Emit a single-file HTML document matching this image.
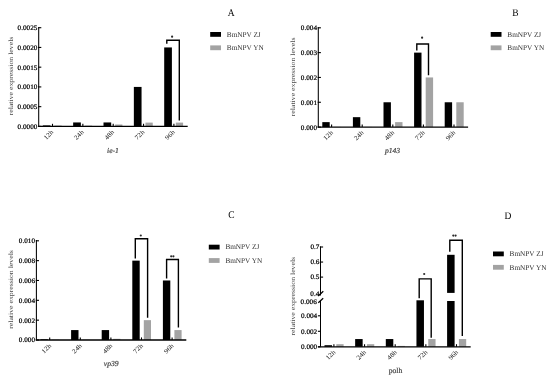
<!DOCTYPE html>
<html><head><meta charset="utf-8"><style>
html,body{margin:0;padding:0;background:#fff;}
svg{display:block;will-change:transform;}
text{font-family:"Liberation Serif", serif;text-rendering:geometricPrecision;}
</style></head><body>
<svg width="550" height="381" viewBox="0 0 550 381" shape-rendering="auto">
<rect width="550" height="381" fill="#fff"/>
<rect x="42.80" y="125.40" width="7.70" height="1.00" fill="#000"/>
<rect x="54.40" y="125.50" width="7.30" height="0.90" fill="#a3a3a3"/>
<line x1="52.50" y1="126.40" x2="52.50" y2="123.80" stroke="#000" stroke-width="1.1"/>
<rect x="73.15" y="122.45" width="7.70" height="3.95" fill="#000"/>
<rect x="84.75" y="125.60" width="7.30" height="0.80" fill="#a3a3a3"/>
<line x1="82.85" y1="126.40" x2="82.85" y2="123.80" stroke="#000" stroke-width="1.1"/>
<rect x="103.50" y="122.45" width="7.70" height="3.95" fill="#000"/>
<rect x="115.10" y="124.50" width="7.30" height="1.90" fill="#a3a3a3"/>
<line x1="113.20" y1="126.40" x2="113.20" y2="123.80" stroke="#000" stroke-width="1.1"/>
<rect x="133.85" y="86.92" width="7.70" height="39.48" fill="#000"/>
<rect x="145.45" y="122.60" width="7.30" height="3.80" fill="#a3a3a3"/>
<line x1="143.55" y1="126.40" x2="143.55" y2="123.80" stroke="#000" stroke-width="1.1"/>
<rect x="164.20" y="47.44" width="7.70" height="78.96" fill="#000"/>
<rect x="175.80" y="122.60" width="7.30" height="3.80" fill="#a3a3a3"/>
<line x1="173.90" y1="126.40" x2="173.90" y2="123.80" stroke="#000" stroke-width="1.1"/>
<line x1="38.70" y1="27.15" x2="38.70" y2="126.40" stroke="#000" stroke-width="1.05"/>
<line x1="38.05" y1="126.40" x2="187.70" y2="126.40" stroke="#000" stroke-width="1.3"/>
<line x1="38.10" y1="126.40" x2="41.30" y2="126.40" stroke="#000" stroke-width="1.1"/>
<text transform="translate(37.40 128.85) scale(1.06 1)" font-size="6.8" text-anchor="end" fill="#000" stroke="#000" stroke-width="0.22">0.0000</text>
<line x1="38.10" y1="106.66" x2="41.30" y2="106.66" stroke="#000" stroke-width="1.1"/>
<text transform="translate(37.40 109.11) scale(1.06 1)" font-size="6.8" text-anchor="end" fill="#000" stroke="#000" stroke-width="0.22">0.0005</text>
<line x1="38.10" y1="86.92" x2="41.30" y2="86.92" stroke="#000" stroke-width="1.1"/>
<text transform="translate(37.40 89.37) scale(1.06 1)" font-size="6.8" text-anchor="end" fill="#000" stroke="#000" stroke-width="0.22">0.0010</text>
<line x1="38.10" y1="67.18" x2="41.30" y2="67.18" stroke="#000" stroke-width="1.1"/>
<text transform="translate(37.40 69.63) scale(1.06 1)" font-size="6.8" text-anchor="end" fill="#000" stroke="#000" stroke-width="0.22">0.0015</text>
<line x1="38.10" y1="47.44" x2="41.30" y2="47.44" stroke="#000" stroke-width="1.1"/>
<text transform="translate(37.40 49.89) scale(1.06 1)" font-size="6.8" text-anchor="end" fill="#000" stroke="#000" stroke-width="0.22">0.0020</text>
<line x1="38.10" y1="27.70" x2="41.30" y2="27.70" stroke="#000" stroke-width="1.1"/>
<text transform="translate(37.40 30.15) scale(1.06 1)" font-size="6.8" text-anchor="end" fill="#000" stroke="#000" stroke-width="0.22">0.0025</text>
<path d="M166.80 43.80V40.20H179.30V120.40" fill="none" stroke="#000" stroke-width="1.4"/>
<circle cx="172.10" cy="36.70" r="1.1" fill="#2a2a2a"/>
<text transform="translate(53.90 132.50) rotate(-45) scale(1.1 1)" font-size="6.6" text-anchor="end" fill="#222" >12h</text>
<text transform="translate(84.25 132.50) rotate(-45) scale(1.1 1)" font-size="6.6" text-anchor="end" fill="#222" >24h</text>
<text transform="translate(114.60 132.50) rotate(-45) scale(1.1 1)" font-size="6.6" text-anchor="end" fill="#222" >48h</text>
<text transform="translate(144.95 132.50) rotate(-45) scale(1.1 1)" font-size="6.6" text-anchor="end" fill="#222" >72h</text>
<text transform="translate(175.30 132.50) rotate(-45) scale(1.1 1)" font-size="6.6" text-anchor="end" fill="#222" >96h</text>
<text transform="translate(12.90 76.00) rotate(-90) scale(1.18 1)" font-size="6.6" text-anchor="middle" fill="#4a4a4a" >relative expression levels</text>
<text transform="translate(113.00 152.50)" font-size="7.6" text-anchor="middle" fill="#444" font-style="italic" stroke="#444" stroke-width="0.2">ie-1</text>
<text transform="translate(231.20 15.60) scale(0.94 1)" font-size="10.1" text-anchor="middle" fill="#000" >A</text>
<rect x="210.20" y="32.00" width="10.80" height="4.80" fill="#000"/>
<rect x="210.20" y="45.40" width="10.80" height="4.80" fill="#a3a3a3"/>
<text transform="translate(226.80 36.70) scale(0.98 1)" font-size="7.4" text-anchor="start" fill="#333" >BmNPV ZJ</text>
<text transform="translate(226.80 50.10) scale(0.98 1)" font-size="7.4" text-anchor="start" fill="#333" >BmNPV YN</text>
<rect x="322.30" y="122.13" width="7.40" height="4.96" fill="#000"/>
<rect x="333.90" y="126.90" width="7.40" height="0.20" fill="#a3a3a3"/>
<line x1="331.60" y1="127.10" x2="331.60" y2="124.50" stroke="#000" stroke-width="1.1"/>
<rect x="352.90" y="117.17" width="7.40" height="9.93" fill="#000"/>
<rect x="364.50" y="126.90" width="7.40" height="0.20" fill="#a3a3a3"/>
<line x1="362.20" y1="127.10" x2="362.20" y2="124.50" stroke="#000" stroke-width="1.1"/>
<rect x="383.50" y="102.27" width="7.40" height="24.82" fill="#000"/>
<rect x="395.10" y="122.13" width="7.40" height="4.96" fill="#a3a3a3"/>
<line x1="392.80" y1="127.10" x2="392.80" y2="124.50" stroke="#000" stroke-width="1.1"/>
<rect x="414.10" y="52.62" width="7.40" height="74.47" fill="#000"/>
<rect x="425.70" y="77.45" width="7.40" height="49.65" fill="#a3a3a3"/>
<line x1="423.40" y1="127.10" x2="423.40" y2="124.50" stroke="#000" stroke-width="1.1"/>
<rect x="444.70" y="102.27" width="7.40" height="24.82" fill="#000"/>
<rect x="456.30" y="102.27" width="7.40" height="24.82" fill="#a3a3a3"/>
<line x1="454.00" y1="127.10" x2="454.00" y2="124.50" stroke="#000" stroke-width="1.1"/>
<line x1="318.30" y1="27.25" x2="318.30" y2="127.10" stroke="#000" stroke-width="1.05"/>
<line x1="317.65" y1="127.10" x2="468.10" y2="127.10" stroke="#000" stroke-width="1.3"/>
<line x1="317.70" y1="127.10" x2="320.90" y2="127.10" stroke="#000" stroke-width="1.1"/>
<text transform="translate(317.00 129.55) scale(1.06 1)" font-size="6.8" text-anchor="end" fill="#000" stroke="#000" stroke-width="0.22">0.000</text>
<line x1="317.70" y1="102.27" x2="320.90" y2="102.27" stroke="#000" stroke-width="1.1"/>
<text transform="translate(317.00 104.72) scale(1.06 1)" font-size="6.8" text-anchor="end" fill="#000" stroke="#000" stroke-width="0.22">0.001</text>
<line x1="317.70" y1="77.45" x2="320.90" y2="77.45" stroke="#000" stroke-width="1.1"/>
<text transform="translate(317.00 79.90) scale(1.06 1)" font-size="6.8" text-anchor="end" fill="#000" stroke="#000" stroke-width="0.22">0.002</text>
<line x1="317.70" y1="52.62" x2="320.90" y2="52.62" stroke="#000" stroke-width="1.1"/>
<text transform="translate(317.00 55.08) scale(1.06 1)" font-size="6.8" text-anchor="end" fill="#000" stroke="#000" stroke-width="0.22">0.003</text>
<line x1="317.70" y1="27.80" x2="320.90" y2="27.80" stroke="#000" stroke-width="1.1"/>
<text transform="translate(317.00 30.25) scale(1.06 1)" font-size="6.8" text-anchor="end" fill="#000" stroke="#000" stroke-width="0.22">0.004</text>
<path d="M416.80 50.60V44.00H428.50V75.20" fill="none" stroke="#000" stroke-width="1.4"/>
<circle cx="422.10" cy="37.70" r="1.1" fill="#2a2a2a"/>
<text transform="translate(333.50 133.00) rotate(-45) scale(1.1 1)" font-size="6.6" text-anchor="end" fill="#222" >12h</text>
<text transform="translate(364.10 133.00) rotate(-45) scale(1.1 1)" font-size="6.6" text-anchor="end" fill="#222" >24h</text>
<text transform="translate(394.70 133.00) rotate(-45) scale(1.1 1)" font-size="6.6" text-anchor="end" fill="#222" >48h</text>
<text transform="translate(425.30 133.00) rotate(-45) scale(1.1 1)" font-size="6.6" text-anchor="end" fill="#222" >72h</text>
<text transform="translate(455.90 133.00) rotate(-45) scale(1.1 1)" font-size="6.6" text-anchor="end" fill="#222" >96h</text>
<text transform="translate(294.90 76.90) rotate(-90) scale(1.18 1)" font-size="6.6" text-anchor="middle" fill="#4a4a4a" >relative expression levels</text>
<text transform="translate(392.50 153.00)" font-size="7.6" text-anchor="middle" fill="#444" font-style="italic" stroke="#444" stroke-width="0.2">p143</text>
<text transform="translate(515.30 15.60) scale(0.94 1)" font-size="10.1" text-anchor="middle" fill="#000" >B</text>
<rect x="490.70" y="32.00" width="10.80" height="4.80" fill="#000"/>
<rect x="490.70" y="45.40" width="10.80" height="4.80" fill="#a3a3a3"/>
<text transform="translate(507.30 36.70) scale(0.98 1)" font-size="7.4" text-anchor="start" fill="#333" >BmNPV ZJ</text>
<text transform="translate(507.30 50.10) scale(0.98 1)" font-size="7.4" text-anchor="start" fill="#333" >BmNPV YN</text>
<rect x="40.50" y="339.30" width="7.40" height="0.70" fill="#000"/>
<rect x="52.00" y="339.70" width="7.20" height="0.30" fill="#a3a3a3"/>
<line x1="49.70" y1="340.00" x2="49.70" y2="337.40" stroke="#000" stroke-width="1.1"/>
<rect x="71.10" y="330.08" width="7.40" height="9.92" fill="#000"/>
<rect x="82.60" y="339.70" width="7.20" height="0.30" fill="#a3a3a3"/>
<line x1="80.30" y1="340.00" x2="80.30" y2="337.40" stroke="#000" stroke-width="1.1"/>
<rect x="101.70" y="330.08" width="7.40" height="9.92" fill="#000"/>
<rect x="113.20" y="338.80" width="7.20" height="1.20" fill="#a3a3a3"/>
<line x1="110.90" y1="340.00" x2="110.90" y2="337.40" stroke="#000" stroke-width="1.1"/>
<rect x="132.30" y="260.64" width="7.40" height="79.36" fill="#000"/>
<rect x="143.80" y="320.16" width="7.20" height="19.84" fill="#a3a3a3"/>
<line x1="141.50" y1="340.00" x2="141.50" y2="337.40" stroke="#000" stroke-width="1.1"/>
<rect x="162.90" y="280.48" width="7.40" height="59.52" fill="#000"/>
<rect x="174.40" y="330.08" width="7.20" height="9.92" fill="#a3a3a3"/>
<line x1="172.10" y1="340.00" x2="172.10" y2="337.40" stroke="#000" stroke-width="1.1"/>
<line x1="36.40" y1="240.05" x2="36.40" y2="340.00" stroke="#000" stroke-width="1.05"/>
<line x1="35.75" y1="340.00" x2="186.30" y2="340.00" stroke="#000" stroke-width="1.3"/>
<line x1="35.80" y1="340.00" x2="39.00" y2="340.00" stroke="#000" stroke-width="1.1"/>
<text transform="translate(35.00 342.45) scale(1.06 1)" font-size="6.8" text-anchor="end" fill="#000" stroke="#000" stroke-width="0.22">0.000</text>
<line x1="35.80" y1="320.16" x2="39.00" y2="320.16" stroke="#000" stroke-width="1.1"/>
<text transform="translate(35.00 322.61) scale(1.06 1)" font-size="6.8" text-anchor="end" fill="#000" stroke="#000" stroke-width="0.22">0.002</text>
<line x1="35.80" y1="300.32" x2="39.00" y2="300.32" stroke="#000" stroke-width="1.1"/>
<text transform="translate(35.00 302.77) scale(1.06 1)" font-size="6.8" text-anchor="end" fill="#000" stroke="#000" stroke-width="0.22">0.004</text>
<line x1="35.80" y1="280.48" x2="39.00" y2="280.48" stroke="#000" stroke-width="1.1"/>
<text transform="translate(35.00 282.93) scale(1.06 1)" font-size="6.8" text-anchor="end" fill="#000" stroke="#000" stroke-width="0.22">0.006</text>
<line x1="35.80" y1="260.64" x2="39.00" y2="260.64" stroke="#000" stroke-width="1.1"/>
<text transform="translate(35.00 263.09) scale(1.06 1)" font-size="6.8" text-anchor="end" fill="#000" stroke="#000" stroke-width="0.22">0.008</text>
<line x1="35.80" y1="240.80" x2="39.00" y2="240.80" stroke="#000" stroke-width="1.1"/>
<text transform="translate(35.00 243.25) scale(1.06 1)" font-size="6.8" text-anchor="end" fill="#000" stroke="#000" stroke-width="0.22">0.010</text>
<path d="M135.30 258.40V238.70H147.60V317.70" fill="none" stroke="#000" stroke-width="1.4"/>
<circle cx="140.80" cy="235.50" r="1.1" fill="#2a2a2a"/>
<path d="M166.60 278.60V259.50H178.40V327.50" fill="none" stroke="#000" stroke-width="1.4"/>
<circle cx="171.20" cy="256.30" r="1.1" fill="#2a2a2a"/>
<circle cx="173.40" cy="256.30" r="1.1" fill="#2a2a2a"/>
<text transform="translate(51.70 346.20) rotate(-45) scale(1.1 1)" font-size="6.6" text-anchor="end" fill="#222" >12h</text>
<text transform="translate(82.30 346.20) rotate(-45) scale(1.1 1)" font-size="6.6" text-anchor="end" fill="#222" >24h</text>
<text transform="translate(112.90 346.20) rotate(-45) scale(1.1 1)" font-size="6.6" text-anchor="end" fill="#222" >48h</text>
<text transform="translate(143.50 346.20) rotate(-45) scale(1.1 1)" font-size="6.6" text-anchor="end" fill="#222" >72h</text>
<text transform="translate(174.10 346.20) rotate(-45) scale(1.1 1)" font-size="6.6" text-anchor="end" fill="#222" >96h</text>
<text transform="translate(12.80 289.50) rotate(-90) scale(1.18 1)" font-size="6.6" text-anchor="middle" fill="#4a4a4a" >relative expression levels</text>
<text transform="translate(111.20 366.00)" font-size="7.6" text-anchor="middle" fill="#444" font-style="italic" stroke="#444" stroke-width="0.2">vp39</text>
<text transform="translate(231.50 217.50) scale(0.94 1)" font-size="10.1" text-anchor="middle" fill="#000" >C</text>
<rect x="208.80" y="244.70" width="10.80" height="4.80" fill="#000"/>
<rect x="208.80" y="258.10" width="10.80" height="4.80" fill="#a3a3a3"/>
<text transform="translate(225.40 249.40) scale(0.98 1)" font-size="7.4" text-anchor="start" fill="#333" >BmNPV ZJ</text>
<text transform="translate(225.40 262.80) scale(0.98 1)" font-size="7.4" text-anchor="start" fill="#333" >BmNPV YN</text>
<rect x="324.50" y="345.20" width="7.50" height="1.60" fill="#000"/>
<rect x="336.30" y="344.20" width="7.30" height="2.60" fill="#a3a3a3"/>
<line x1="333.90" y1="346.80" x2="333.90" y2="344.20" stroke="#000" stroke-width="1.1"/>
<rect x="355.15" y="339.05" width="7.50" height="7.75" fill="#000"/>
<rect x="366.95" y="344.20" width="7.30" height="2.60" fill="#a3a3a3"/>
<line x1="364.55" y1="346.80" x2="364.55" y2="344.20" stroke="#000" stroke-width="1.1"/>
<rect x="385.80" y="339.05" width="7.50" height="7.75" fill="#000"/>
<rect x="397.60" y="345.90" width="7.30" height="0.90" fill="#a3a3a3"/>
<line x1="395.20" y1="346.80" x2="395.20" y2="344.20" stroke="#000" stroke-width="1.1"/>
<rect x="416.45" y="300.30" width="7.50" height="46.50" fill="#000"/>
<rect x="428.25" y="339.05" width="7.30" height="7.75" fill="#a3a3a3"/>
<line x1="425.85" y1="346.80" x2="425.85" y2="344.20" stroke="#000" stroke-width="1.1"/>
<rect x="447.10" y="254.80" width="7.50" height="38.10" fill="#000"/>
<rect x="447.10" y="301.00" width="7.50" height="45.80" fill="#000"/>
<rect x="458.90" y="339.05" width="7.30" height="7.75" fill="#a3a3a3"/>
<line x1="456.50" y1="346.80" x2="456.50" y2="344.20" stroke="#000" stroke-width="1.1"/>
<line x1="320.50" y1="246.45" x2="320.50" y2="295.50" stroke="#000" stroke-width="1.05"/>
<line x1="320.50" y1="300.95" x2="320.50" y2="346.80" stroke="#000" stroke-width="1.05"/>
<line x1="317.90" y1="346.80" x2="470.70" y2="346.80" stroke="#000" stroke-width="1.3"/>
<line x1="317.90" y1="346.80" x2="320.50" y2="346.80" stroke="#000" stroke-width="1.1"/>
<text transform="translate(317.20 349.25) scale(1.06 1)" font-size="6.8" text-anchor="end" fill="#000" stroke="#000" stroke-width="0.22">0.000</text>
<line x1="317.90" y1="331.30" x2="320.50" y2="331.30" stroke="#000" stroke-width="1.1"/>
<text transform="translate(317.20 333.75) scale(1.06 1)" font-size="6.8" text-anchor="end" fill="#000" stroke="#000" stroke-width="0.22">0.002</text>
<line x1="317.90" y1="315.80" x2="320.50" y2="315.80" stroke="#000" stroke-width="1.1"/>
<text transform="translate(317.20 318.25) scale(1.06 1)" font-size="6.8" text-anchor="end" fill="#000" stroke="#000" stroke-width="0.22">0.004</text>
<line x1="319.90" y1="247.00" x2="323.10" y2="247.00" stroke="#000" stroke-width="1.1"/>
<text transform="translate(319.40 249.35) scale(1.06 1)" font-size="6.8" text-anchor="end" fill="#000" stroke="#000" stroke-width="0.22">0.7</text>
<line x1="319.90" y1="262.05" x2="323.10" y2="262.05" stroke="#000" stroke-width="1.1"/>
<text transform="translate(319.40 264.40) scale(1.06 1)" font-size="6.8" text-anchor="end" fill="#000" stroke="#000" stroke-width="0.22">0.6</text>
<line x1="319.90" y1="277.10" x2="323.10" y2="277.10" stroke="#000" stroke-width="1.1"/>
<text transform="translate(319.40 279.45) scale(1.06 1)" font-size="6.8" text-anchor="end" fill="#000" stroke="#000" stroke-width="0.22">0.5</text>
<line x1="318.2" y1="296.0" x2="323.3" y2="291.3" stroke="#000" stroke-width="1.2"/>
<line x1="318.3" y1="302.8" x2="323.2" y2="298.2" stroke="#000" stroke-width="1.2"/>
<path d="M419.20 298.30V278.90H431.20V337.80" fill="none" stroke="#000" stroke-width="1.4"/>
<circle cx="424.20" cy="274.00" r="1.1" fill="#2a2a2a"/>
<path d="M449.80 251.70V240.30H462.30V336.00" fill="none" stroke="#000" stroke-width="1.4"/>
<circle cx="453.30" cy="235.60" r="1.1" fill="#2a2a2a"/>
<circle cx="455.60" cy="235.60" r="1.1" fill="#2a2a2a"/>
<text transform="translate(336.00 352.60) rotate(-45) scale(1.1 1)" font-size="6.6" text-anchor="end" fill="#222" >12h</text>
<text transform="translate(366.65 352.60) rotate(-45) scale(1.1 1)" font-size="6.6" text-anchor="end" fill="#222" >24h</text>
<text transform="translate(397.30 352.60) rotate(-45) scale(1.1 1)" font-size="6.6" text-anchor="end" fill="#222" >48h</text>
<text transform="translate(427.95 352.60) rotate(-45) scale(1.1 1)" font-size="6.6" text-anchor="end" fill="#222" >72h</text>
<text transform="translate(458.60 352.60) rotate(-45) scale(1.1 1)" font-size="6.6" text-anchor="end" fill="#222" >96h</text>
<text transform="translate(294.50 296.20) rotate(-90) scale(1.18 1)" font-size="6.6" text-anchor="middle" fill="#4a4a4a" >relative expression levels</text>
<text transform="translate(395.50 373.20)" font-size="7.6" text-anchor="middle" fill="#444" stroke="#444" stroke-width="0.2">polh</text>
<text transform="translate(507.80 219.30) scale(0.94 1)" font-size="10.1" text-anchor="middle" fill="#000" >D</text>
<rect x="493.00" y="251.50" width="10.80" height="4.80" fill="#000"/>
<rect x="493.00" y="264.90" width="10.80" height="4.80" fill="#a3a3a3"/>
<text transform="translate(509.60 256.20) scale(0.98 1)" font-size="7.4" text-anchor="start" fill="#333" >BmNPV ZJ</text>
<text transform="translate(509.60 269.60) scale(0.98 1)" font-size="7.4" text-anchor="start" fill="#333" >BmNPV YN</text>
<text transform="translate(319.30 296.40) scale(1.06 1)" font-size="6.8" text-anchor="end" fill="#000" stroke="#000" stroke-width="0.22">0.4</text>
<text transform="translate(316.80 303.60) scale(1.06 1)" font-size="6.8" text-anchor="end" fill="#000" stroke="#000" stroke-width="0.22">0.006</text>
</svg>
</body></html>
